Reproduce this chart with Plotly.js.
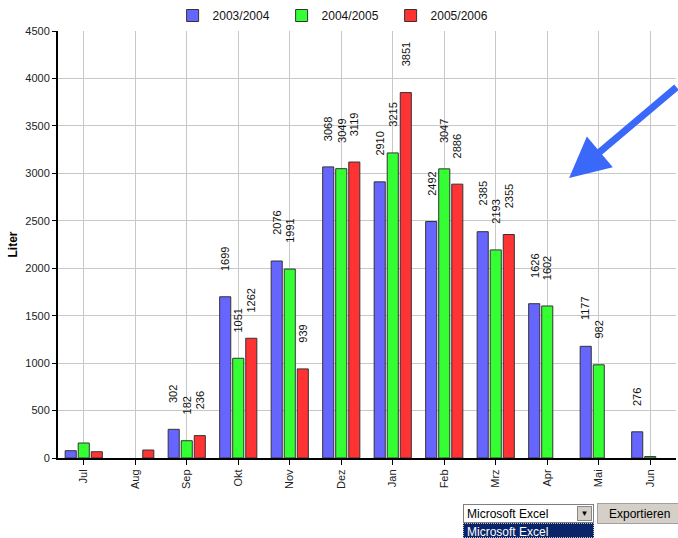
<!DOCTYPE html>
<html>
<head>
<meta charset="utf-8">
<script src="https://cdn.plot.ly/plotly-3.0.1.min.js"></script>
<style>
  html, body { margin: 0; padding: 0; background: #fff; }
  #chart { width: 678px; height: 538px; }
  .ctl { position: absolute; font-family: "Liberation Sans", Arial, sans-serif; font-size: 12px; box-sizing: border-box; }
  #sel { left: 463px; top: 504px; width: 131px; height: 19px; border: 1px solid #7f7f7f; background: #fff; padding: 2px 3px; color: #000; }
  #selbtn { position: absolute; right: 1px; top: 1px; width: 15px; height: 15px; background: #d4d0c8; border: 1px solid #888; box-sizing: border-box; font-size: 8px; text-align: center; line-height: 13px; }
  #btn { left: 597px; top: 503px; width: 85px; height: 21px; background: #d4d0c8; border: 1px solid #a0a0a0; padding: 3px 0 0 11px; color: #000; }
  #opt { left: 463px; top: 523px; width: 131px; height: 15px; background: #0a246a; color: #fff; padding: 1px 3px; border: 1px dotted #c0c0c0; }
</style>
</head>
<body>
<div id="chart"></div>
<div class="ctl" id="sel">Microsoft Excel<div id="selbtn">&#9660;</div></div>
<div class="ctl" id="btn">Exportieren</div>
<div class="ctl" id="opt">Microsoft Excel</div>
<script>
const months = ["Jul","Aug","Sep","Okt","Nov","Dez","Jan","Feb","Mrz","Apr","Mai","Jun"];
const seriesNames = ["2003/2004","2004/2005","2005/2006"];
const s2003 = [77, null, 302, 1699, 2076, 3068, 2910, 2492, 2385, 1626, 1177, 276];
const s2004 = [158, null, 182, 1051, 1991, 3049, 3215, 3047, 2193, 1602, 982, 15];
const s2005 = [66, 84, 236, 1262, 939, 3119, 3851, 2886, 2355, null, null, null];
const colors = ["#6666ff", "#33ff33", "#ff3333"];
const yTicks = [0, 500, 1000, 1500, 2000, 2500, 3000, 3500, 4000, 4500];
const labelMin = 170;

const allSeries = [s2003, s2004, s2005];
const traces = allSeries.map((vals, i) => ({
  type: "bar",
  name: seriesNames[i],
  x: months,
  y: vals,
  marker: { color: colors[i], line: { color: "#333333", width: 1 } },
  hoverinfo: "x+y+name"
}));

const offsets = [-13, 0, 13];
const annotations = [];
allSeries.forEach((vals, i) => {
  vals.forEach((v, j) => {
    if (v !== null && v >= labelMin) {
      annotations.push({
        x: months[j], y: v, xref: "x", yref: "y",
        text: String(v), showarrow: false, textangle: -90,
        xanchor: "center", yanchor: "bottom",
        xshift: offsets[i], yshift: 24,
        font: { family: "Liberation Sans, Arial, sans-serif", size: 11, color: "#111" }
      });
    }
  });
});
annotations.push({
  xref: "paper", yref: "paper", x: 0.827, y: 0.656,
  ax: 135, ay: -92, axref: "pixel", ayref: "pixel",
  text: "", showarrow: true, arrowhead: 2, arrowsize: 1.15, arrowwidth: 7,
  arrowcolor: "#3a68f8", standoff: 0
});

const layout = {
  width: 678, height: 538,
  margin: { l: 58, r: 2, t: 30, b: 80 },
  paper_bgcolor: "#ffffff", plot_bgcolor: "#ffffff",
  font: { family: "Liberation Sans, Arial, sans-serif", size: 11, color: "#222" },
  barmode: "group", bargap: 0.24, bargroupgap: 0.15,
  showlegend: true,
  legend: {
    orientation: "h", x: 0.45, xanchor: "center", y: 1, yanchor: "bottom",
    font: { size: 12, color: "#111" }, traceorder: "normal", entrywidth: 64, itemwidth: 30
  },
  xaxis: {
    type: "category", tickangle: -90, ticks: "outside", ticklen: 5, tickcolor: "#000",
    showgrid: true, gridcolor: "#c8c8c8", gridwidth: 1,
    showline: true, linecolor: "#000", linewidth: 2,
    tickfont: { size: 11, color: "#222" }, range: [-0.5, 11.5], fixedrange: true
  },
  yaxis: {
    range: [0, 4500], tickvals: yTicks, ticktext: yTicks.map(String),
    ticks: "outside", ticklen: 4, tickcolor: "#000",
    showgrid: true, gridcolor: "#c8c8c8", gridwidth: 1, zeroline: false,
    showline: true, linecolor: "#000", linewidth: 2,
    tickfont: { size: 11, color: "#222" },
    title: { text: "<b>Liter</b>", font: { size: 12, color: "#000" }, standoff: 5 }
  },
  annotations: annotations
};

Plotly.newPlot("chart", traces, layout, { displayModeBar: false, staticPlot: true });
</script>
</body>
</html>
